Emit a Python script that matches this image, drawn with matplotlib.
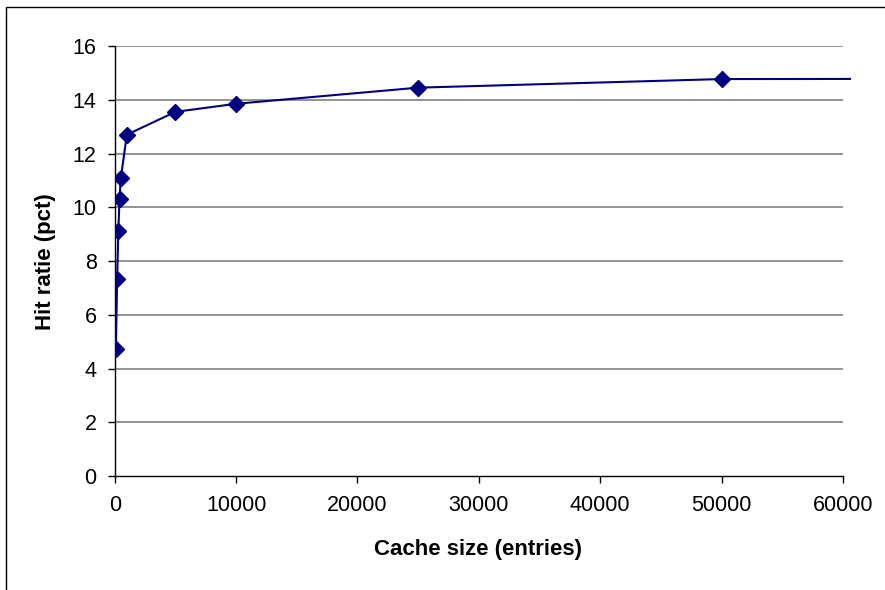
import matplotlib
matplotlib.use("Agg")
import matplotlib.pyplot as plt
from matplotlib.patches import Rectangle

cache_size = [100, 200, 300, 400, 500, 1000, 5000, 10000, 25000, 50000, 100000]
hit_ratio = [4.72, 7.33, 9.12, 10.32, 11.07, 12.70, 13.55, 13.85, 14.45, 14.77, 14.79]
x_ticks = [0, 10000, 20000, 30000, 40000, 50000, 60000]
y_ticks = [0, 2, 4, 6, 8, 10, 12, 14, 16]

plt.rcParams['font.family'] = ['Liberation Sans', 'DejaVu Sans']

W, H = 885, 590
fig = plt.figure(figsize=(W / 100, H / 100), dpi=100)
ax = fig.add_axes([114.7 / W, 1 - 476 / H, (843 - 114.7) / W, (476 - 46) / H])

for y in y_ticks[1:]:
    ax.axhline(y, color='#808080', lw=1.2, zorder=1)

line, = ax.plot(cache_size, hit_ratio, color='#000080', lw=1.5, marker='D',
                markersize=8.5, markerfacecolor='#000080', markeredgecolor='#000080',
                zorder=3)
clip = Rectangle((0, -1), 60700, 18, transform=ax.transData, facecolor='none', edgecolor='none')
clip.set_visible(False)
fig.add_artist(clip)
line.set_clip_on(True)
line.set_clip_path(clip)

ax.set_xlim(0, 60000)
ax.set_ylim(0, 16)
ax.set_xticks(x_ticks)
ax.set_yticks(y_ticks)
ax.set_xticklabels([str(t) for t in x_ticks], fontsize=15.5)
ax.set_yticklabels([str(t) for t in y_ticks], fontsize=15.5)
ax.tick_params(axis='both', direction='out', length=5, width=1, color='black')
ax.tick_params(axis='y', pad=8)
ax.tick_params(axis='x', pad=9)

for s in ['top', 'right']:
    ax.spines[s].set_visible(False)
for s in ['left', 'bottom']:
    ax.spines[s].set_color('black')
    ax.spines[s].set_linewidth(1)

fig.text(478.5 / W, 1 - 550 / H, 'Cache size (entries)', fontsize=16, fontweight='bold',
         ha='center', va='center')
fig.text(46 / W, 1 - 262 / H, 'Hit ratie (pct)', fontsize=16, fontweight='bold',
         ha='center', va='center', rotation=90)

border = Rectangle((6 / W, -0.1), 1.2, 1 - 7.5 / H + 0.1, transform=fig.transFigure,
                   facecolor='none', edgecolor='black', lw=1)
fig.add_artist(border)

fig.savefig('out.png', dpi=100)
